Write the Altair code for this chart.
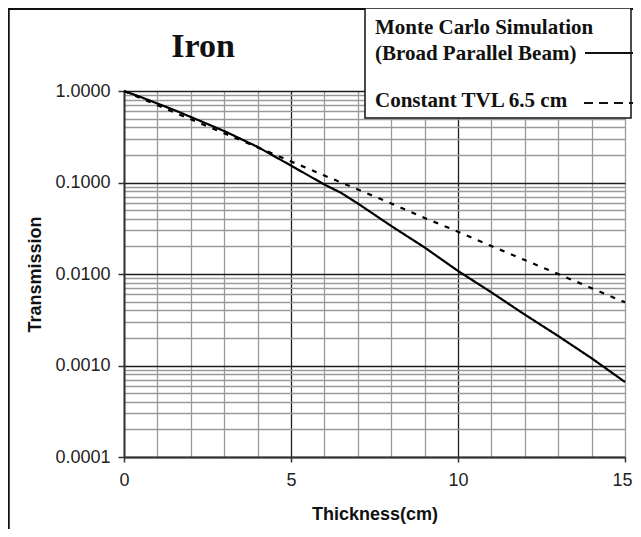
import altair as alt
import pandas as pd

# ---- data ----
series_names = ["Monte Carlo Simulation (Broad Parallel Beam)", "Constant TVL 6.5 cm"]

mc_thickness = [0, 0.5, 1, 1.5, 2, 3, 4, 5, 6, 6.5, 7, 8, 9, 10, 11, 12, 13, 14, 15]
mc_transmission = [1.0, 0.86, 0.73, 0.62, 0.52, 0.365, 0.245, 0.153, 0.095, 0.077, 0.059,
                   0.0335, 0.0195, 0.0108, 0.0063, 0.0036, 0.0021, 0.0012, 0.00066]

tvl_thickness = [0, 1, 2, 3, 4, 5, 6, 7, 8, 9, 10, 11, 12, 13, 14, 15]
tvl_transmission = [1.0, 0.70, 0.49, 0.345, 0.242, 0.170, 0.119, 0.084, 0.059, 0.041,
                    0.029, 0.0202, 0.0142, 0.0100, 0.0070, 0.0049]

x_tick_values = list(range(0, 16))
y_tick_values = [m * 10.0 ** e for e in range(-4, 0) for m in range(1, 10)] + [1.0]

title_text = "Iron"
legend_lines = ["Monte Carlo Simulation", "(Broad Parallel Beam)", "Constant TVL 6.5 cm"]
x_title = "Thickness(cm)"
y_title = "Transmission"

df = pd.concat([
    pd.DataFrame({"thickness": mc_thickness, "transmission": mc_transmission, "series": series_names[0]}),
    pd.DataFrame({"thickness": tvl_thickness, "transmission": tvl_transmission, "series": series_names[1]}),
])

W, H = 501, 366
SANS = "Liberation Sans"
SERIF = "Liberation Serif"

decade_test = "abs(log(datum.value)/LN10 - round(log(datum.value)/LN10)) < 0.001"
major_x_test = "datum.value === 5 || datum.value === 10"

x_enc = alt.X(
    "thickness:Q",
    scale=alt.Scale(domain=[0, 15], nice=False, zero=False),
    axis=alt.Axis(
        values=x_tick_values,
        labelExpr="datum.value % 5 === 0 ? datum.label : ''",
        labelOverlap=False,
        labelFlush=False,
        labelOffset={"condition": {"test": "datum.value === 15", "value": -3}, "value": 0},
        labelFont=SANS, labelFontSize=18, labelColor="#222", labelPadding=9,
        tickSize=5, tickWidth=1.5,
        tickColor={"condition": {"test": "datum.value % 5 === 0", "value": "#333"}, "value": "transparent"},
        domainColor="#333", domainWidth=2,
        grid=True,
        gridColor={"condition": {"test": major_x_test, "value": "#1e1e1e"}, "value": "#9a9a9a"},
        gridWidth=1.3,
        title=x_title, titleFont=SANS, titleFontSize=18, titleFontWeight="bold",
        titleColor="#111", titlePadding=16,
    ),
)

y_enc = alt.Y(
    "transmission:Q",
    scale=alt.Scale(type="log", domain=[0.0001, 1], nice=False),
    axis=alt.Axis(
        values=y_tick_values,
        format=".4f",
        labelExpr="(" + decade_test + ") ? datum.label : ''",
        labelOverlap=False,
        labelFlush=False,
        labelFont=SANS, labelFontSize=18, labelColor="#222", labelPadding=8,
        tickSize=6, tickWidth=1.5,
        tickColor={"condition": {"test": decade_test, "value": "#333"}, "value": "transparent"},
        domainColor="#333", domainWidth=2,
        grid=True,
        gridColor={"condition": {"test": decade_test, "value": "#1e1e1e"}, "value": "#9a9a9a"},
        gridWidth=1.3,
        title=y_title, titleFont=SANS, titleFontSize=18, titleFontWeight="bold",
        titleColor="#111", titlePadding=10,
    ),
)

lines = alt.Chart(df).mark_line(color="black", strokeWidth=2.2).encode(
    x=x_enc,
    y=y_enc,
    strokeDash=alt.StrokeDash(
        "series:N",
        scale=alt.Scale(domain=series_names, range=[[1, 0], [5, 7]]),
        legend=None,
    ),
    order="thickness:Q",
)

one = alt.Data(values=[{}])

title_mark = alt.Chart(one).mark_text(
    font=SERIF, fontSize=34, fontWeight="bold", color="#111", align="center", baseline="alphabetic"
).encode(x=alt.value(79), y=alt.value(-34), text=alt.value(title_text))

legend_box = alt.Chart(one).mark_rect(fill="white", stroke="#111", strokeWidth=1.5).encode(
    x=alt.value(241), x2=alt.value(507), y=alt.value(-83), y2=alt.value(27)
)

legend_text_style = dict(font=SERIF, fontSize=21, fontWeight="bold", color="#111",
                         align="left", baseline="alphabetic")
leg_t1 = alt.Chart(one).mark_text(**legend_text_style).encode(
    x=alt.value(251), y=alt.value(-57), text=alt.value(legend_lines[0]))
leg_t2 = alt.Chart(one).mark_text(**legend_text_style).encode(
    x=alt.value(251), y=alt.value(-31), text=alt.value(legend_lines[1]))
leg_t3 = alt.Chart(one).mark_text(**legend_text_style).encode(
    x=alt.value(251), y=alt.value(16), text=alt.value(legend_lines[2]))

leg_solid = alt.Chart(one).mark_rule(color="#111", strokeWidth=2.2).encode(
    x=alt.value(461), x2=alt.value(514), y=alt.value(-38))
leg_dash = alt.Chart(one).mark_rule(color="#111", strokeWidth=2.2, strokeDash=[9, 6]).encode(
    x=alt.value(460), x2=alt.value(514), y=alt.value(12))

frame_left = alt.Chart(one).mark_rule(color="#111", strokeWidth=2.5).encode(
    x=alt.value(-115.5), y=alt.value(-82), y2=alt.value(H + 90))
frame_top = alt.Chart(one).mark_rule(color="#111", strokeWidth=2).encode(
    x=alt.value(-116), x2=alt.value(W + 20), y=alt.value(-82))

chart = alt.layer(
    lines, title_mark, frame_left, frame_top, legend_box, leg_t1, leg_t2, leg_t3, leg_solid, leg_dash
).properties(
    width=W, height=H,
    padding={"left": 116, "top": 83, "right": 8, "bottom": 72},
    autosize="none",
    background="white",
).configure_view(strokeWidth=0)

chart.save("out.html", embed_options={"renderer": "svg", "actions": False})
